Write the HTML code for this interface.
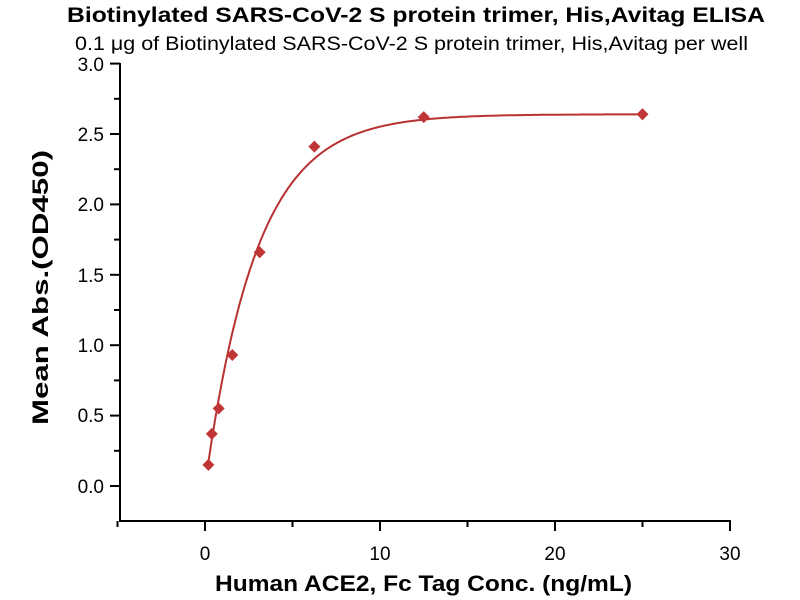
<!DOCTYPE html>
<html><head><meta charset="utf-8"><style>
body{margin:0;background:#fff;}
svg{display:block;font-family:"Liberation Sans",sans-serif;}
</style></head><body>
<svg id="s" width="800" height="600" xmlns="http://www.w3.org/2000/svg">
<text x="67" y="22" font-size="21" font-weight="bold" textLength="698" lengthAdjust="spacingAndGlyphs">Biotinylated SARS-CoV-2 S protein trimer, His,Avitag ELISA</text>
<text x="75" y="50" font-size="19" textLength="673" lengthAdjust="spacingAndGlyphs">0.1 μg of Biotinylated SARS-CoV-2 S protein trimer, His,Avitag per well</text>
<g stroke="#000" stroke-width="2" fill="none">
<line x1="120" y1="63" x2="120" y2="522"/>
<line x1="119" y1="521" x2="731" y2="521"/>
</g>
<g id="ticks" stroke="#000" stroke-width="2"></g>
<g font-size="19" text-anchor="end">
<text x="104" y="71">3.0</text><text x="104" y="141">2.5</text><text x="104" y="211">2.0</text>
<text x="104" y="282">1.5</text><text x="104" y="352">1.0</text><text x="104" y="422">0.5</text><text x="104" y="493">0.0</text>
</g>
<g font-size="19" text-anchor="middle">
<text x="205" y="560">0</text><text x="380" y="560">10</text><text x="555" y="560">20</text><text x="730" y="560">30</text>
</g>
<text x="215" y="591" font-size="22" font-weight="bold" textLength="417" lengthAdjust="spacingAndGlyphs">Human ACE2, Fc Tag Conc. (ng/mL)</text>
<text transform="translate(48,425) rotate(-90)" font-size="22" font-weight="bold" textLength="275" lengthAdjust="spacingAndGlyphs">Mean Abs.(OD450)</text>
<path id="curve" fill="none" stroke="#b83232" stroke-width="2"/>
<g id="pts" fill="#c03535"></g>
</svg>
<script>
var X=x=>205+17.5*x, Y=y=>486-140.8*y, t=document.getElementById('ticks'),h='';
for(var v=0;v<=3.001;v+=0.25){var y=Y(v),l=(Math.round(v*4)%2==0)?10:6;h+='<line x1="'+(120-l)+'" y1="'+y+'" x2="120" y2="'+y+'"/>';}
for(var v=-5;v<=30;v+=5){var x=X(v),l=(v%10==0)?10:6;h+='<line x1="'+x+'" y1="521" x2="'+x+'" y2="'+(521+l)+'"/>';}
t.innerHTML=h;
var d='';for(var x=0.195;x<=25;x+=0.05){var y=0.0+2.64*(1-Math.exp(-0.34*x));d+=(d?'L':'M')+X(x).toFixed(1)+','+Y(y).toFixed(1);}
document.getElementById('curve').setAttribute('d',d);
var P=[[0.195,0.15],[0.39,0.37],[0.78,0.55],[1.56,0.93],[3.125,1.66],[6.25,2.41],[12.5,2.62],[25,2.64]],g='';
P.forEach(p=>{var cx=X(p[0]),cy=Y(p[1]);g+='<polygon points="'+cx+','+(cy-6)+' '+(cx+6)+','+cy+' '+cx+','+(cy+6)+' '+(cx-6)+','+cy+'"/>';});
document.getElementById('pts').innerHTML=g;
</script>
</body></html>
